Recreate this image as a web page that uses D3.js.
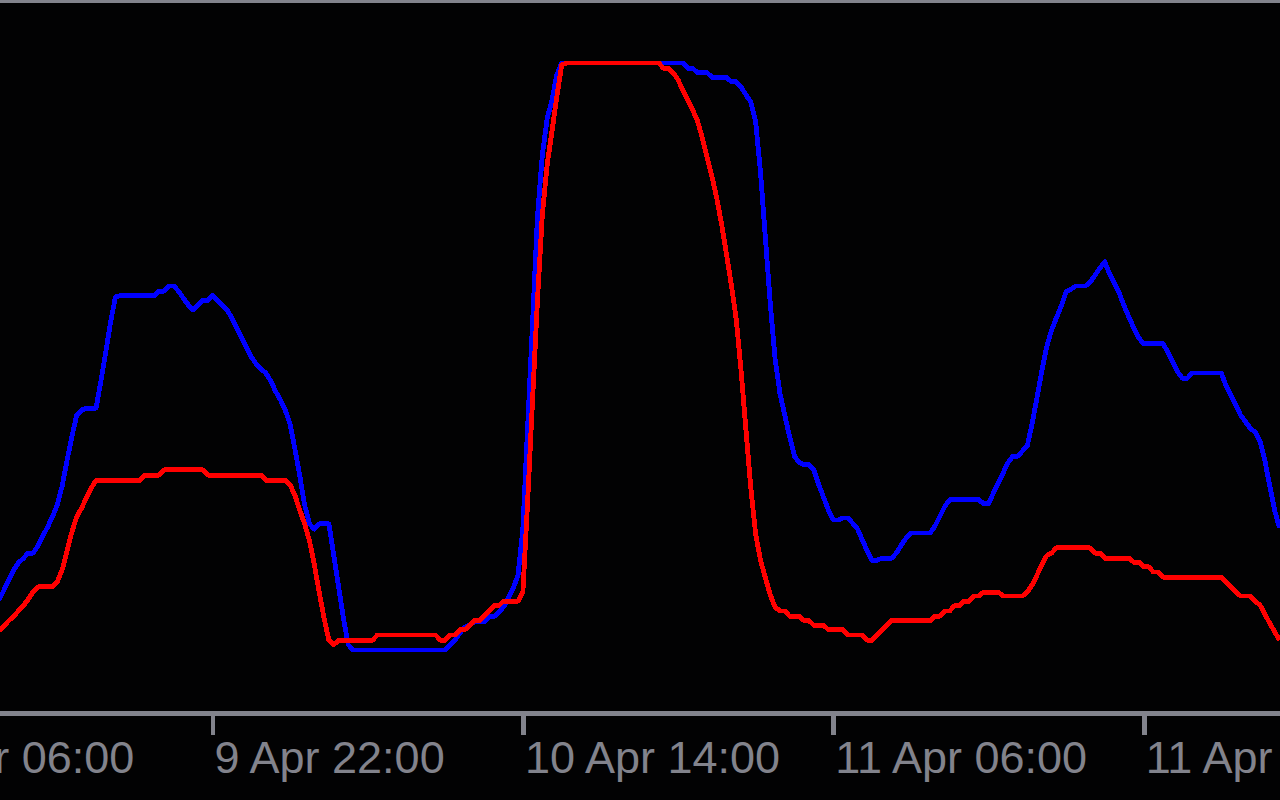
<!DOCTYPE html>
<html>
<head>
<meta charset="utf-8">
<script src="https://cdn.jsdelivr.net/npm/d3@7"></script>
<style>
  html, body { margin: 0; padding: 0; background: #020203; overflow: hidden; }
  svg { display: block; }
</style>
</head>
<body>
<svg id="chart" width="1280" height="800"></svg>
<script>
// ---- data (15-minute bars, first bar 9 Apr 11:00) ----
const seriesStart = "2024-04-09T11:00";
const barMinutes = 15;

const blueValues = [
  17.4, 18.9, 20.5, 22.0, 23.1, 23.8, 24.6, 24.6, 25.7, 27.2,
  28.6, 30.2, 32.0, 34.9, 38.8, 42.5, 45.8, 46.6, 46.9, 46.9,
  46.9, 51.1, 55.5, 60.2, 64.0, 64.2, 64.2, 64.2, 64.2, 64.2,
  64.2, 64.2, 64.2, 64.9, 64.9, 65.7, 65.7, 64.9, 63.8, 62.8,
  62.0, 62.8, 63.5, 63.5, 64.2, 63.5, 62.8, 62.0, 60.8, 59.2,
  57.7, 56.3, 54.8, 53.7, 52.9, 52.3, 51.1, 49.5, 48.2, 46.6,
  44.5, 40.6, 36.5, 32.0, 29.1, 28.3, 29.1, 29.1, 29.1, 24.3,
  19.4, 14.6, 10.5, 9.7, 9.7, 9.7, 9.7, 9.7, 9.7, 9.7,
  9.7, 9.7, 9.7, 9.7, 9.7, 9.7, 9.7, 9.7, 9.7, 9.7,
  9.7, 9.7, 9.7, 10.5, 11.2, 12.3, 13.2, 13.5, 14.0, 14.0,
  14.0, 14.8, 14.8, 15.5, 16.3, 17.7, 19.2, 21.2, 28.3, 44.3,
  60.0, 76.2, 85.8, 91.4, 94.3, 98.2, 100, 100, 100, 100,
  100, 100, 100, 100, 100, 100, 100, 100, 100, 100,
  100, 100, 100, 100, 100, 100, 100, 100, 100, 100,
  100, 100, 99.2, 99.2, 98.5, 98.5, 98.5, 97.8, 97.8, 97.8,
  97.8, 97.1, 97.1, 96.3, 95.1, 94.0, 90.9, 83.2, 73.1, 63.1,
  54.5, 49.2, 45.8, 42.5, 39.5, 38.5, 38.2, 38.2, 37.4, 35.1,
  33.2, 31.2, 29.7, 29.7, 30.0, 30.0, 29.2, 28.3, 26.6, 24.9,
  23.5, 23.5, 23.8, 23.8, 23.8, 24.6, 25.8, 26.9, 27.7, 27.7,
  27.7, 27.7, 27.7, 28.8, 30.3, 31.8, 32.8, 32.8, 32.8, 32.8,
  32.8, 32.8, 32.8, 32.2, 32.2, 33.8, 35.4, 36.9, 38.5, 39.5,
  39.5, 40.3, 41.1, 44.5, 48.5, 52.6, 56.3, 58.9, 60.8, 62.6,
  64.8, 65.2, 65.7, 65.7, 65.7, 66.3, 67.4, 68.5, 69.4, 67.5,
  66.0, 64.5, 62.6, 60.8, 59.2, 57.7, 56.8, 56.8, 56.8, 56.8,
  56.8, 55.5, 54.0, 52.5, 51.5, 51.5, 52.3, 52.3, 52.3, 52.3,
  52.3, 52.3, 52.3, 50.3, 48.9, 47.4, 45.8, 44.8, 43.8, 43.2,
  41.8, 38.8, 34.9, 31.2, 28.5
];

const redValues = [
  12.6, 13.4, 14.2, 14.9, 15.7, 16.5, 17.5, 18.6, 19.4, 19.4,
  19.4, 19.4, 20.2, 22.0, 24.9, 27.8, 30.2, 31.5, 33.1, 34.6,
  35.8, 35.8, 35.8, 35.8, 35.8, 35.8, 35.8, 35.8, 35.8, 35.8,
  36.6, 36.6, 36.6, 36.6, 37.4, 37.4, 37.4, 37.4, 37.4, 37.4,
  37.4, 37.4, 37.4, 36.6, 36.6, 36.6, 36.6, 36.6, 36.6, 36.6,
  36.6, 36.6, 36.6, 36.6, 36.6, 35.8, 35.8, 35.8, 35.8, 35.8,
  35.1, 33.5, 31.2, 29.1, 26.5, 22.8, 18.6, 14.6, 11.2, 10.5,
  11.2, 11.2, 11.2, 11.2, 11.2, 11.2, 11.2, 11.2, 12.0, 12.0,
  12.0, 12.0, 12.0, 12.0, 12.0, 12.0, 12.0, 12.0, 12.0, 12.0,
  12.0, 11.2, 11.2, 12.0, 12.0, 12.8, 12.8, 13.4, 14.2, 14.2,
  14.9, 15.7, 16.5, 16.5, 17.2, 17.2, 17.2, 17.2, 18.6, 32.8,
  48.2, 63.4, 76.5, 84.3, 89.5, 94.8, 99.7, 100, 100, 100,
  100, 100, 100, 100, 100, 100, 100, 100, 100, 100,
  100, 100, 100, 100, 100, 100, 100, 99.2, 99.2, 98.5,
  97.4, 95.8, 94.3, 92.8, 91.1, 88.5, 85.4, 82.5, 79.1, 75.1,
  70.5, 65.8, 60.5, 52.6, 43.5, 34.6, 27.5, 23.5, 20.8, 18.2,
  16.3, 15.7, 15.7, 14.9, 14.9, 14.9, 14.2, 14.2, 13.5, 13.5,
  13.5, 12.8, 12.8, 12.8, 12.8, 12.0, 12.0, 12.0, 12.0, 11.2,
  11.2, 12.0, 12.8, 13.5, 14.2, 14.2, 14.2, 14.2, 14.2, 14.2,
  14.2, 14.2, 14.2, 14.9, 14.9, 15.7, 15.7, 16.5, 16.5, 17.2,
  17.2, 18.0, 18.0, 18.6, 18.6, 18.6, 18.6, 18.0, 18.0, 18.0,
  18.0, 18.0, 18.6, 19.7, 21.2, 22.8, 24.2, 24.6, 25.4, 25.4,
  25.4, 25.4, 25.4, 25.4, 25.4, 25.4, 24.6, 24.6, 23.8, 23.8,
  23.8, 23.8, 23.8, 23.8, 23.2, 23.2, 22.5, 22.5, 21.7, 21.7,
  20.9, 20.9, 20.9, 20.9, 20.9, 20.9, 20.9, 20.9, 20.9, 20.9,
  20.9, 20.9, 20.9, 20.2, 19.4, 18.6, 18.0, 18.0, 18.0, 17.2,
  16.6, 15.2, 13.8, 12.5, 11.2
];

const tickTimes  = ["2024-04-09T06:00", "2024-04-09T22:00", "2024-04-10T14:00", "2024-04-11T06:00", "2024-04-11T22:00"];
const tickLabels = ["9 Apr 06:00", "9 Apr 22:00", "10 Apr 14:00", "11 Apr 06:00", "11 Apr 22:00"];

// ---- layout / style ----
const W = 1280, H = 800;
const bg = "#020203";
const frameColor = "#82838c";
const blueColor = "#0000ff";
const redColor = "#ff0000";
const lineW = 4.85;
const axisY = 713.5;

const parse = d3.timeParse("%Y-%m-%dT%H:%M");
const t0 = parse(seriesStart);
const times = blueValues.map((_, i) => d3.timeMinute.offset(t0, i * barMinutes));
const blueData = times.map((t, i) => ({ t, v: blueValues[i] }));
const redData  = times.map((t, i) => ({ t, v: redValues[i] }));

const x = d3.scaleTime()
  .domain([times[0], times[times.length - 1]])
  .range([-0.925, 1279.475]);
const y = d3.scaleLinear().domain([0, 100]).range([713, 63]);

const svg = d3.select("#chart");
svg.append("rect").attr("width", W).attr("height", H).attr("fill", bg);

// top frame line
svg.append("line")
  .attr("x1", 0).attr("x2", W).attr("y1", 1.5).attr("y2", 1.5)
  .attr("stroke", frameColor).attr("stroke-width", 3)
  .attr("shape-rendering", "crispEdges");

// bottom time axis
const ticks = tickTimes.map((s, i) => ({ t: parse(s), label: tickLabels[i] }));
const axis = d3.axisBottom(x)
  .tickValues(ticks.map(d => d.t))
  .tickFormat((d, i) => ticks[i].label)
  .tickSizeInner(21).tickSizeOuter(0).tickPadding(0);

const gAxis = svg.append("g").attr("transform", `translate(0,${axisY})`).call(axis);
gAxis.select(".domain").remove();
gAxis.insert("line", ":first-child")
  .attr("x1", 0).attr("x2", W).attr("y1", 0).attr("y2", 0)
  .attr("stroke", frameColor).attr("stroke-width", lineW)
  .attr("shape-rendering", "crispEdges");
gAxis.selectAll(".tick line")
  .attr("stroke", frameColor).attr("stroke-width", lineW)
  .attr("shape-rendering", "crispEdges");
gAxis.selectAll(".tick text")
  .attr("fill", frameColor)
  .attr("font-family", "'Liberation Sans', Arial, sans-serif")
  .attr("font-size", 45)
  .attr("text-anchor", "start")
  .attr("x", 1.5)
  .attr("y", 0)
  .attr("dy", null)
  .attr("transform", "translate(0,59.5)");

// series lines
const line = d3.line().x(d => x(d.t)).y(d => y(d.v)).curve(d3.curveLinear);

svg.append("path").datum(blueData)
  .attr("d", line).attr("fill", "none")
  .attr("stroke", blueColor).attr("stroke-width", lineW)
  .attr("stroke-linejoin", "round")
  .attr("shape-rendering", "crispEdges");

svg.append("path").datum(redData)
  .attr("d", line).attr("fill", "none")
  .attr("stroke", redColor).attr("stroke-width", lineW)
  .attr("stroke-linejoin", "round")
  .attr("shape-rendering", "crispEdges");
</script>
</body>
</html>
